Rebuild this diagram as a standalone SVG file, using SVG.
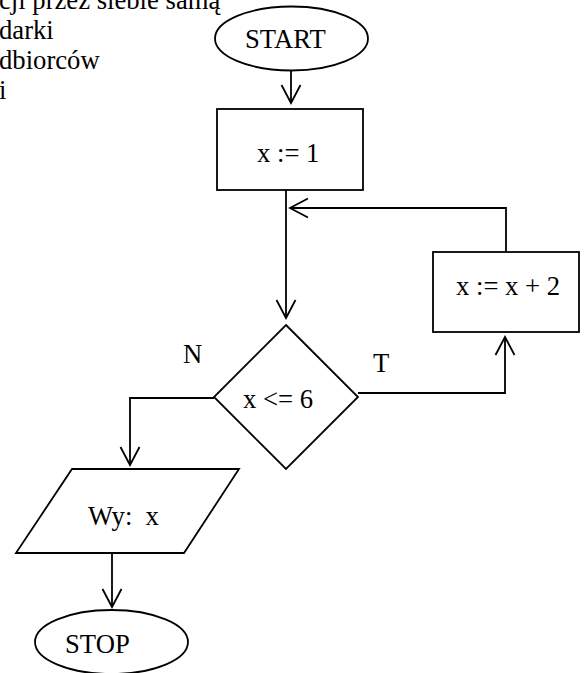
<svg xmlns="http://www.w3.org/2000/svg" width="584" height="673" viewBox="0 0 584 673">
<style>
.s{fill:none;stroke:#000;stroke-width:1.8}
.t{font-family:"Liberation Serif","Times New Roman",serif;font-size:26.67px;fill:#000}
</style>
<defs>
<marker id="ah" markerUnits="userSpaceOnUse" markerWidth="24" markerHeight="24" viewBox="-20 -12 24 24" refX="0" refY="0" orient="auto">
<path d="M-18,-9.5 L0,0 L-18,9.5" fill="none" stroke="#000" stroke-width="1.8"/>
</marker>
</defs>
<rect width="584" height="673" fill="#fff"/>
<g id="note">
<text class="t" x="-1" y="9">cji przez siebie samą</text>
<text class="t" x="-1" y="39">darki</text>
<text class="t" x="-1" y="69">dbiorców</text>
<text class="t" x="-1" y="99">i</text>
</g>
<g id="connectors">
<path class="s" d="M291,70.5 L291,103" marker-end="url(#ah)"/>
<path class="s" d="M286,190 L286,318" marker-end="url(#ah)"/>
<path class="s" d="M506,252 L506,208 L290,208" marker-end="url(#ah)"/>
<path class="s" d="M358,393 L505,393 L505,337" marker-end="url(#ah)"/>
<path class="s" d="M214,398 L130,398 L130,465" marker-end="url(#ah)"/>
<path class="s" d="M112,553 L112,607" marker-end="url(#ah)"/>
<text class="t" x="183" y="363">N</text>
<text class="t" x="373" y="372">T</text>
</g>
<g id="start">
<ellipse class="s" cx="291.5" cy="38.5" rx="76.5" ry="32"/>
<text class="t" x="245" y="48">START</text>
</g>
<g id="init">
<rect class="s" x="217" y="109" width="146" height="81"/>
<text class="t" x="257" y="162">x := 1</text>
</g>
<g id="increment">
<rect class="s" x="433" y="252" width="146" height="80"/>
<text class="t" x="456" y="295">x := x + 2</text>
</g>
<g id="condition">
<path class="s" d="M286,325 L358,397 L286,469 L214,397 Z"/>
<text class="t" x="243" y="408">x &lt;= 6</text>
</g>
<g id="output">
<path class="s" d="M72,469 L239,469 L184,553 L16,553 Z"/>
<text class="t" x="88" y="525" xml:space="preserve">Wy:  x</text>
</g>
<g id="stop">
<ellipse class="s" cx="111.5" cy="642" rx="76.5" ry="32"/>
<text class="t" x="65" y="653">STOP</text>
</g>
</svg>
